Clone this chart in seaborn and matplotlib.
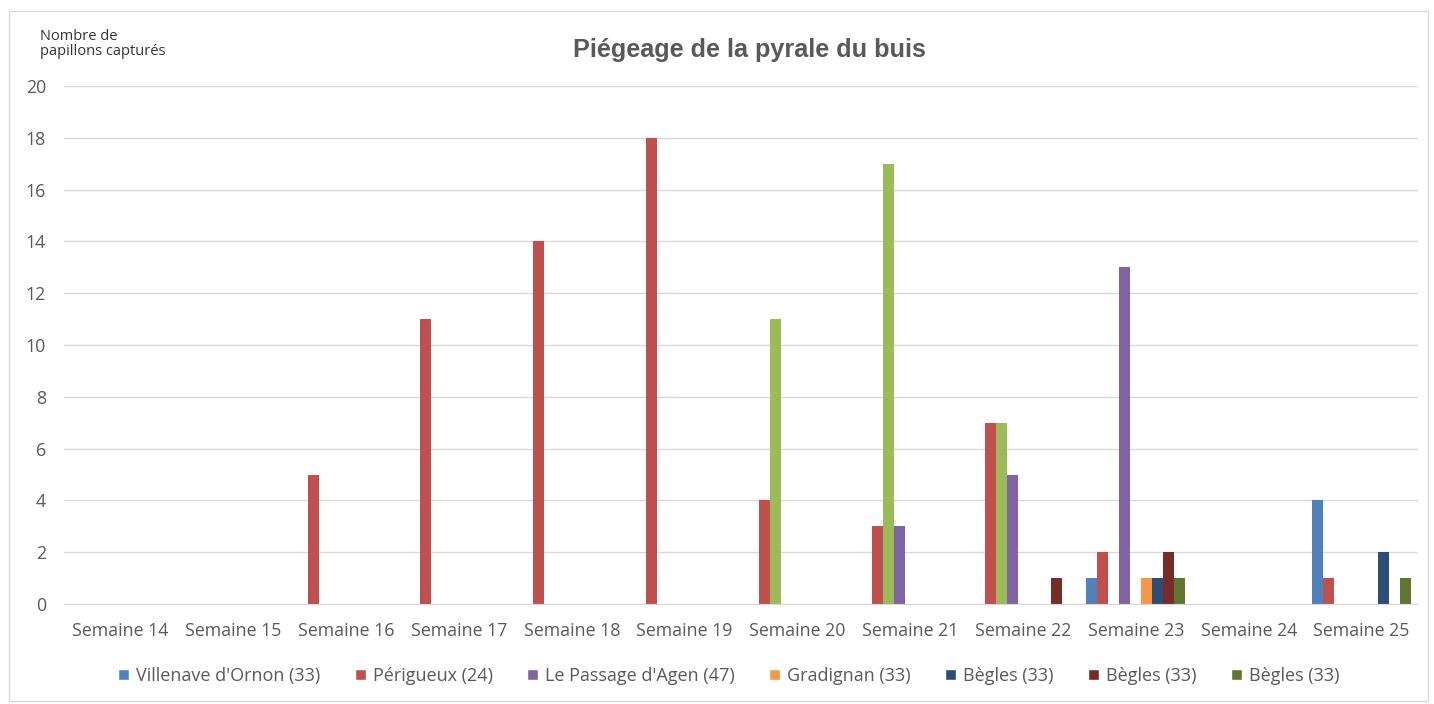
import pandas as pd
import matplotlib
matplotlib.use("Agg")
import matplotlib.pyplot as plt
from matplotlib.patches import Patch, Rectangle
import seaborn as sns

weeks = ["Semaine 14", "Semaine 15", "Semaine 16", "Semaine 17", "Semaine 18", "Semaine 19",
         "Semaine 20", "Semaine 21", "Semaine 22", "Semaine 23", "Semaine 24", "Semaine 25"]

# one list per trap, values per week (S14 -> S25)
villenave = [0, 0, 0, 0, 0, 0, 0, 0, 0, 1, 0, 4]
perigueux = [0, 0, 5, 11, 14, 18, 4, 3, 7, 2, 0, 1]
piege_vert = [0, 0, 0, 0, 0, 0, 11, 17, 7, 0, 0, 0]
passage_agen = [0, 0, 0, 0, 0, 0, 0, 3, 5, 13, 0, 0]
piege_cyan = [0, 0, 0, 0, 0, 0, 0, 0, 0, 0, 0, 0]
gradignan = [0, 0, 0, 0, 0, 0, 0, 0, 0, 1, 0, 0]
begles_1 = [0, 0, 0, 0, 0, 0, 0, 0, 0, 1, 0, 2]
begles_2 = [0, 0, 0, 0, 0, 0, 0, 0, 1, 2, 0, 0]
begles_3 = [0, 0, 0, 0, 0, 0, 0, 0, 0, 1, 0, 1]

series_keys = ["s1", "s2", "s3", "s4", "s5", "s6", "s7", "s8", "s9"]
series_vals = [villenave, perigueux, piege_vert, passage_agen, piege_cyan,
               gradignan, begles_1, begles_2, begles_3]
colors = ["#4F81BD", "#C0504D", "#9BBB59", "#8064A2", "#4BACC6",
          "#F79646", "#2C4D75", "#772C2A", "#5F7530"]

# legend shows only these (two series were removed from the legend)
legend_labels = ["Villenave d'Ornon (33)", "Périgueux (24)", "Le Passage d'Agen (47)",
                 "Gradignan (33)", "Bègles (33)", "Bègles (33)", "Bègles (33)"]
legend_idx = [0, 1, 3, 5, 6, 7, 8]

rows = []
for key, vals in zip(series_keys, series_vals):
    for w, v in zip(weeks, vals):
        rows.append({"semaine": w, "piege": key, "n": v})
data = pd.DataFrame(rows)

sns.set_style("white")
plt.rcParams['font.family'] = ['Open Sans', 'DejaVu Sans']

fig = plt.figure(figsize=(14.34, 7.04), dpi=100)
ax = fig.add_axes([64 / 1434, 100 / 704, (1418 - 64) / 1434, (604 - 86) / 704])

sns.barplot(data=data, x="semaine", y="n", hue="piege", order=weeks,
            hue_order=series_keys, palette=colors, width=0.877, saturation=1,
            linewidth=0, legend=False, ax=ax)

ax.set_ylim(0, 20)
ax.set_xlim(-0.5, len(weeks) - 0.5)
ax.set_yticks(range(0, 21, 2))
ax.yaxis.grid(True, color="#D9D9D9", linewidth=1)
ax.set_axisbelow(True)
for s in ["left", "right", "top"]:
    ax.spines[s].set_visible(False)
ax.spines["bottom"].set_color("#D9D9D9")
ax.tick_params(axis="both", length=0, colors="#595959", labelsize=12.8)
ax.tick_params(axis="y", pad=13)
ax.tick_params(axis="x", pad=13)
ax.set_xlabel("")
ax.set_ylabel("")

fig.text(749 / 1434, 1 - 50 / 704, "Piégeage de la pyrale du buis", ha="center", va="center",
         fontsize=18.2, fontweight="bold", color="#595959", family="Liberation Sans")
fig.text(40 / 1434, 1 - 44 / 704, "Nombre de\npapillons capturés", ha="left", va="center",
         fontsize=10.5, color="#333333", linespacing=1.0)

handles = [Patch(facecolor=colors[i]) for i in legend_idx]
fig.legend(handles, legend_labels, loc="center", bbox_to_anchor=(729 / 1434, 1 - 676 / 704),
           ncol=7, frameon=False, fontsize=13, handlelength=0.6, handleheight=0.6,
           columnspacing=1.9, handletextpad=0.4, labelcolor="#595959")

fig.patches.append(Rectangle((9 / 1434, 3 / 704), 1419 / 1434, 690 / 704, transform=fig.transFigure,
                             fill=False, edgecolor="#D9D9D9", linewidth=1))

fig.savefig("out.png", dpi=100)
